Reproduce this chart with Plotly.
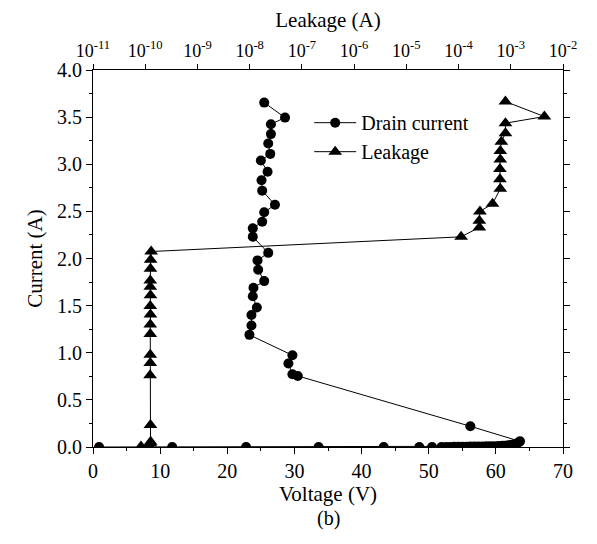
import plotly.graph_objects as go

# Drain current (bottom axis: Voltage V, left axis: Current A)
drain_V = [0.9, 11.8, 22.8, 33.6, 43.3, 48.6, 50.5, 51.9, 52.6, 53.2, 53.8, 54.4, 55.0,
           55.6, 56.2, 56.8, 57.4, 58.0, 58.6, 59.2, 59.8, 60.4, 61.0, 61.6, 62.1, 62.6,
           63.0, 63.4, 63.6,
           56.2, 30.5, 29.7, 29.1, 29.7, 23.3, 23.6, 23.6, 24.4, 23.8, 23.9, 25.5, 24.6,
           24.5, 26.1, 23.8, 23.8, 25.2, 25.5, 27.1, 25.2, 25.1, 26.0, 25.0, 26.4, 26.1,
           26.5, 26.5, 28.6, 25.5]
drain_I = [0.0, 0.0, 0.0, 0.0, 0.0, 0.0, 0.0, 0.0, 0.0, 0.0, 0.002, 0.002, 0.003,
           0.003, 0.004, 0.004, 0.005, 0.006, 0.007, 0.008, 0.009, 0.011, 0.013, 0.016, 0.02, 0.027,
           0.035, 0.05, 0.06,
           0.22, 0.754, 0.772, 0.886, 0.973, 1.19, 1.29, 1.40, 1.48, 1.60, 1.69, 1.76, 1.88,
           1.98, 2.06, 2.23, 2.32, 2.39, 2.49, 2.57, 2.72, 2.83, 2.92, 3.04, 3.11, 3.22,
           3.32, 3.425, 3.495, 3.654]

# Leakage (top axis: Leakage A, log scale; left axis: Current A)
leak_A = [8.3e-11, 1.2e-10, 1.25e-10, 1.27e-10, 1.26e-10, 1.24e-10, 1.25e-10, 1.25e-10,
          1.25e-10, 1.25e-10, 1.26e-10, 1.25e-10, 1.26e-10, 1.25e-10, 1.25e-10, 1.26e-10,
          1.27e-10, 1.30e-10,
          1.12e-4, 2.5e-4, 2.5e-4, 2.57e-4, 4.47e-4, 6.3e-4, 6.2e-4, 6.2e-4, 6.3e-4, 6.3e-4,
          6.6e-4, 7.9e-4, 7.9e-4, 4.4e-3, 7.9e-4]
leak_I = [0.005, 0.01, 0.04, 0.056, 0.233, 0.76, 0.89, 0.98, 1.20, 1.30, 1.407, 1.495,
          1.61, 1.70, 1.767, 1.89, 1.986, 2.074,
          2.23, 2.33, 2.40, 2.50, 2.58, 2.74, 2.84, 2.95, 3.05, 3.14, 3.24, 3.33, 3.436,
          3.506, 3.665]

top_tickvals = [1e-11, 1e-10, 1e-9, 1e-8, 1e-7, 1e-6, 1e-5, 1e-4, 1e-3, 1e-2]
top_ticktext = ["10<sup>-11</sup>", "10<sup>-10</sup>", "10<sup>-9</sup>", "10<sup>-8</sup>",
                "10<sup>-7</sup>", "10<sup>-6</sup>", "10<sup>-5</sup>", "10<sup>-4</sup>",
                "10<sup>-3</sup>", "10<sup>-2</sup>"]

FONT = "Liberation Serif, Times New Roman, serif"

fig = go.Figure()
fig.add_trace(go.Scatter(x=drain_V, y=drain_I, mode="lines+markers", name="Drain current",
                         line=dict(color="black", width=1),
                         marker=dict(symbol="circle", size=10, color="black"),
                         xaxis="x", yaxis="y"))
fig.add_trace(go.Scatter(x=leak_A, y=leak_I, mode="lines+markers", name="Leakage",
                         line=dict(color="black", width=1),
                         marker=dict(symbol="triangle-up", size=12, color="black"),
                         xaxis="x2", yaxis="y"))

# page body adds 8px offset; figure sized so plot area lands where the reference has it
fig.update_layout(
    width=581, height=528,
    paper_bgcolor="white", plot_bgcolor="white",
    margin=dict(l=85, r=22, t=61, b=89),
    font=dict(family=FONT, size=20, color="black"),
    showlegend=True,
    legend=dict(x=0.46, y=0.912, xanchor="left", yanchor="top",
                bgcolor="rgba(0,0,0,0)", font=dict(family=FONT, size=20),
                tracegroupgap=0, itemwidth=42),
    xaxis=dict(range=[0, 70], dtick=10, tick0=0, showgrid=False, zeroline=False,
               showline=True, linecolor="black", linewidth=1, mirror=True,
               ticks="outside", ticklen=6, tickcolor="black",
               minor=dict(dtick=5, ticks="outside", ticklen=3, tickcolor="black"),
               title=dict(text="Voltage (V)", font=dict(size=21), standoff=1),
               tickfont=dict(size=20)),
    xaxis2=dict(type="log", range=[-11, -2], overlaying="x", side="top",
                tickvals=top_tickvals, ticktext=top_ticktext,
                showgrid=False, zeroline=False, showline=False,
                ticks="outside", ticklen=5, tickcolor="black",
                title=dict(text="Leakage (A)", font=dict(size=21), standoff=4),
                tickfont=dict(size=18)),
    yaxis=dict(range=[0, 4], dtick=0.5, tick0=0, tickformat=".1f", showgrid=False,
               zeroline=False, showline=True, linecolor="black", linewidth=1,
               mirror="ticks", ticks="outside", ticklen=6, tickcolor="black",
               minor=dict(dtick=0.25, ticks="outside", ticklen=3, tickcolor="black"),
               title=dict(text="Current (A)", font=dict(size=21), standoff=8),
               tickfont=dict(size=20)),
    annotations=[dict(text="(b)", x=0.5, y=-(519 - 447) / 378, xref="paper", yref="paper",
                      yanchor="middle", showarrow=False, font=dict(size=20))],
)

fig.write_html("out.html")
